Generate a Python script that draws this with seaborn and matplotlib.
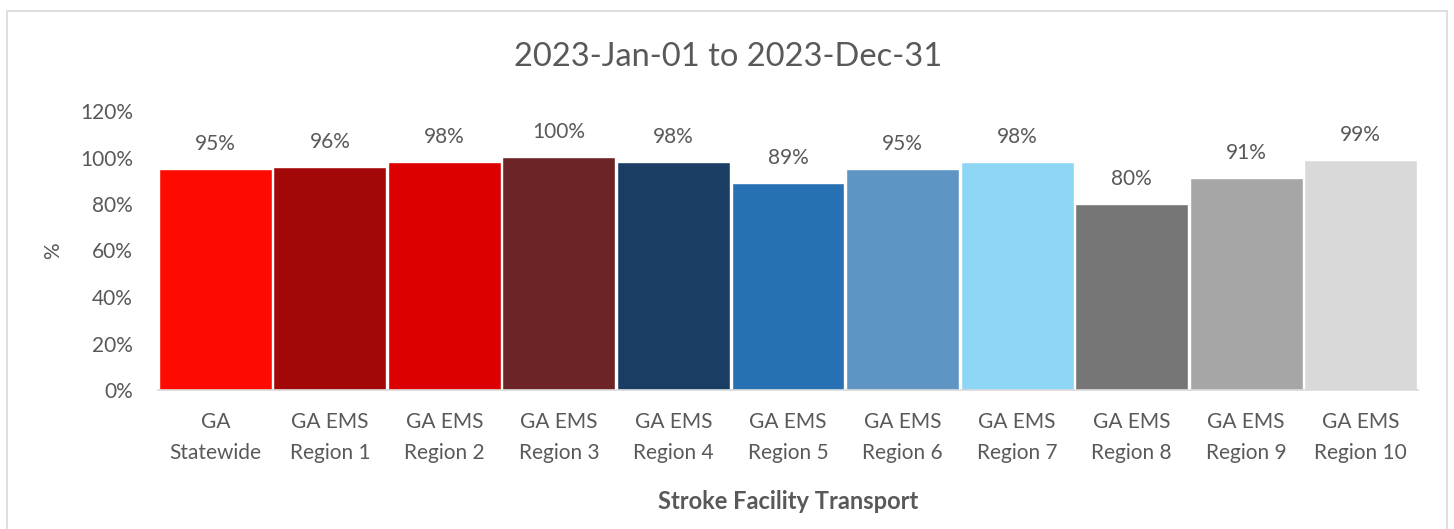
import numpy as np
import pandas as pd
import matplotlib
matplotlib.use('Agg')
import matplotlib.pyplot as plt
import matplotlib.patches as patches
from matplotlib.ticker import PercentFormatter
import seaborn as sns

# ================================================================
# data

regions = ['GA\nStatewide', 'GA EMS\nRegion 1', 'GA EMS\nRegion 2', 'GA EMS\nRegion 3',
           'GA EMS\nRegion 4', 'GA EMS\nRegion 5', 'GA EMS\nRegion 6', 'GA EMS\nRegion 7',
           'GA EMS\nRegion 8', 'GA EMS\nRegion 9', 'GA EMS\nRegion 10']
pctValues = [95, 96, 98, 100, 98, 89, 95, 98, 80, 91, 99]
barColors = ['#FE0A00', '#A20808', '#DC0000', '#6C2426', '#1A3D63', '#2870B4',
             '#5F95C5', '#8DD6F4', '#767676', '#A6A6A6', '#D9D9D9']

titleText = '2023-Jan-01 to 2023-Dec-31'
xLabelText = 'Stroke Facility Transport'

# ================================================================

sns.set_style('white')
plt.rcParams['font.family'] = ['Lato', 'DejaVu Sans']
textColor = '#595959'

df = pd.DataFrame({'region': regions, 'pct': pctValues})

fig = plt.figure(figsize=(14.54, 5.29), dpi=100)
ax0 = fig.add_axes([158 / 1454, 1 - 390 / 529, (1418 - 158) / 1454, (390 - 111) / 529])

sns.barplot(data=df, x='region', y='pct', hue='region', palette=barColors,
            legend=False, width=0.985, edgecolor='white', linewidth=1, ax=ax0, saturation=1)

ax0.set_ylim(0, 120)
ax0.set_yticks(np.arange(0, 121, 20))
ax0.yaxis.set_major_formatter(PercentFormatter(decimals=0))
ax0.set_xlim(-0.5, len(regions) - 0.5)

for i, v in enumerate(pctValues):
    ax0.annotate(f'{v}%', (i, v), xytext=(0, 11), textcoords='offset points',
                 ha='center', va='bottom', fontsize=15, color=textColor)

for s in ['top', 'right', 'left']:
    ax0.spines[s].set_visible(False)
ax0.spines['bottom'].set_color('#D9D9D9')
ax0.spines['bottom'].set_linewidth(1.2)

ax0.tick_params(axis='both', length=0, labelsize=15, labelcolor=textColor)
ax0.tick_params(axis='x', pad=16)
ax0.tick_params(axis='y', pad=18)
for lbl in ax0.get_xticklabels():
    lbl.set_linespacing(1.65)

ax0.set_ylabel('%', fontsize=15, color=textColor, labelpad=12)
ax0.set_xlabel(xLabelText, fontsize=17, fontweight='bold', color=textColor, labelpad=20)
fig.text(728 / 1454, 1 - 57 / 529, titleText, ha='center', va='center',
         fontsize=23.5, color=textColor)

# light frame around the chart area
fig.patches.append(patches.Rectangle((7 / 1454, -0.05), (1447 - 7) / 1454, 1.05 - 11 / 529,
                                     transform=fig.transFigure, fill=False,
                                     edgecolor='#D9D9D9', linewidth=1.2))

fig.savefig('out.png', dpi=100)
plt.close(fig)
